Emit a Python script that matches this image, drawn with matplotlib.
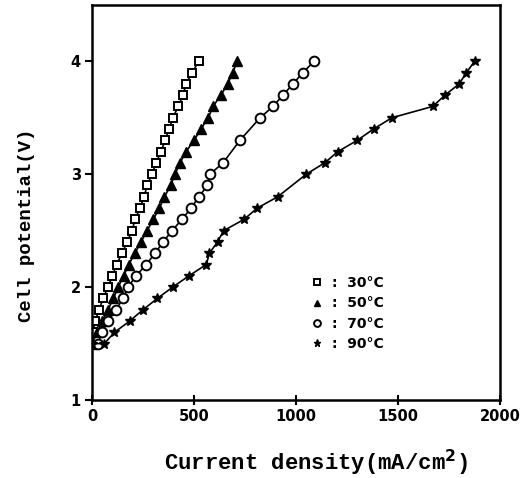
import matplotlib
matplotlib.use("Agg")
import matplotlib.pyplot as plt

# 30 °C (squares)
v30 = [1.6, 1.7, 1.8, 1.9, 2.0, 2.1, 2.2, 2.3, 2.4, 2.5, 2.6, 2.7, 2.8, 2.9, 3.0,
       3.1, 3.2, 3.3, 3.4, 3.5, 3.6, 3.7, 3.8, 3.9, 4.0]
i30 = [5, 15, 35, 54, 78, 100, 120, 147, 172, 196, 211, 235, 255, 270, 294,
       314, 338, 358, 377, 397, 422, 446, 461, 490, 524]
# 50 °C (triangles)
v50 = [1.5, 1.6, 1.7, 1.8, 1.9, 2.0, 2.1, 2.2, 2.3, 2.4, 2.5, 2.6, 2.7, 2.8, 2.9,
       3.0, 3.1, 3.2, 3.3, 3.4, 3.5, 3.6, 3.7, 3.8, 3.9, 4.0]
i50 = [0, 25, 50, 78, 105, 128, 155, 180, 210, 240, 270, 300, 330, 355, 385,
       407, 431, 461, 500, 534, 570, 593, 632, 665, 690, 711]
# 70 °C (circles)
v70 = [1.5, 1.6, 1.7, 1.8, 1.9, 2.0, 2.1, 2.2, 2.3, 2.4, 2.5, 2.6, 2.7, 2.8, 2.9,
       3.0, 3.1, 3.3, 3.5, 3.6, 3.7, 3.8, 3.9, 4.0]
i70 = [29, 49, 78, 118, 152, 176, 216, 265, 309, 348, 392, 441, 485, 524, 565,
       578, 642, 725, 824, 887, 936, 985, 1034, 1088]
# 90 °C (stars)
v90 = [1.5, 1.5, 1.6, 1.7, 1.8, 1.9, 2.0, 2.1, 2.2, 2.3, 2.4, 2.5, 2.6, 2.7, 2.8,
       3.0, 3.1, 3.2, 3.3, 3.4, 3.5, 3.6, 3.7, 3.8, 3.9, 4.0]
i90 = [0, 60, 110, 185, 250, 320, 395, 475, 560, 575, 615, 645, 745, 810, 910,
       1050, 1140, 1205, 1300, 1380, 1470, 1670, 1730, 1800, 1835, 1875]

labels = [":  30°C", ":  50°C", ":  70°C", ":  90°C"]
xticks = [0, 500, 1000, 1500, 2000]
yticks = [1, 2, 3, 4]

fig = plt.figure(figsize=(5.32, 4.78), dpi=100)
ax = fig.add_axes([0.173, 0.163, 0.767, 0.827])

ms = 6
lw = 1.2
ax.plot(i30, v30, '-', color='black', lw=lw, marker='s', ms=ms,
        mfc='white', mec='black', mew=1.4, label=labels[0])
ax.plot(i50, v50, '-', color='black', lw=lw, marker='^', ms=ms + 0.5,
        mfc='black', mec='black', label=labels[1])
ax.plot(i70, v70, '-', color='black', lw=lw, marker='o', ms=ms + 1,
        mfc='white', mec='black', mew=1.4, label=labels[2])
ax.plot(i90, v90, '-', color='black', lw=lw, marker='*', ms=ms + 1.5,
        mfc='black', mec='black', label=labels[3])

ax.set_xlim(0, 2000)
ax.set_ylim(1, 4.5)
ax.set_xticks(xticks)
ax.set_yticks(yticks)
ax.set_xticklabels([str(t) for t in xticks], fontfamily='DejaVu Sans',
                   fontweight='bold', fontsize=10.5)
ax.set_yticklabels([str(t) for t in yticks], fontfamily='DejaVu Sans',
                   fontweight='bold', fontsize=10.5)
ax.tick_params(axis='x', direction='inout', length=7, width=1.5, pad=3)
ax.tick_params(axis='y', direction='out', length=5, width=1.5, pad=3)
for s in ax.spines.values():
    s.set_linewidth(1.8)

ax.set_xlabel("Current density(mA/cm$^\\mathbf{2}$)", fontfamily='Liberation Mono',
              fontweight='bold', fontsize=16)
ax.set_ylabel("Cell potential(V)", fontfamily='Liberation Mono',
              fontweight='bold', fontsize=13.7)
ax.xaxis.set_label_coords(0.549, -0.12)
ax.yaxis.set_label_coords(-0.14, 0.443)

leg = ax.legend(loc='upper left', bbox_to_anchor=(0.52, 0.345), frameon=False,
                handlelength=0, handletextpad=1.1, labelspacing=0.45,
                prop={'family': 'DejaVu Sans', 'weight': 'bold', 'size': 10},
                markerscale=0.7)

fig.savefig("out.png", dpi=100)
